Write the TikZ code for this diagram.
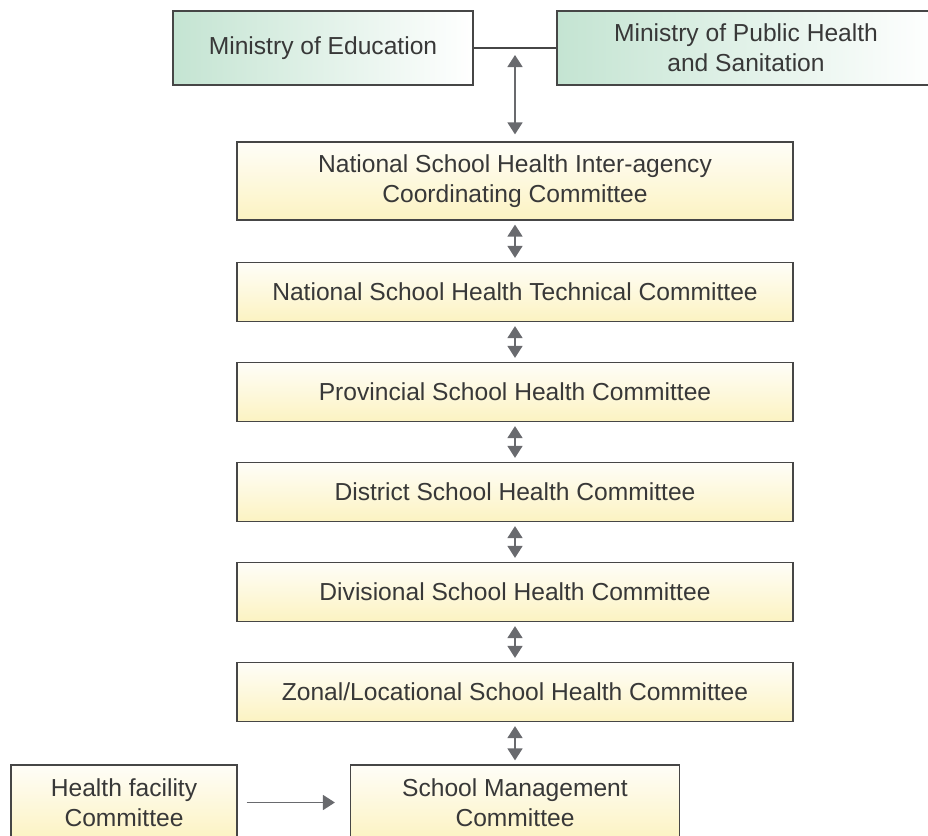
\documentclass[tikz,border=0pt]{standalone}
\usepackage{fontspec}
\setmainfont{Liberation Sans}
\usetikzlibrary{arrows.meta}

\definecolor{ministry}{RGB}{196,228,210}
\definecolor{cream}{RGB}{252,243,194}
\definecolor{edge}{RGB}{70,70,70}
\definecolor{link}{RGB}{105,106,110}

\tikzset{
  ministrybox/.style={draw=edge, line width=0.6pt, left color=ministry, right color=white,
    inner sep=0pt, align=center, minimum height=37pt},
  committee/.style={draw=edge, line width=0.6pt, top color=cream!12, bottom color=cream,
    inner sep=0pt, align=center},
  twoway/.style={draw=link, line width=0.8pt,
    {Triangle[width=7.5pt,length=6pt]}-{Triangle[width=7.5pt,length=6pt]},
    shorten <=2pt, shorten >=2pt},
  oneway/.style={draw=link, line width=0.8pt, -{Triangle[width=7.5pt,length=6pt]},
    shorten <=4.5pt, shorten >=7.5pt},
}

\begin{document}
\begin{tikzpicture}[x=0.5pt, y=-0.5pt, font=\fontsize{12.3}{15}\selectfont, text=black!78]
  \useasboundingbox (0,0) rectangle (928,836);

  % ministries
  \node[ministrybox, minimum width=150pt] (moe) at (323,48) {Ministry of Education};
  \node[ministrybox, minimum width=189pt] (moph) at (746,48)
    {Ministry of Public Health\\and Sanitation};
  \draw[edge, line width=0.6pt] (moe) -- (moph) coordinate[midway] (mid);

  % committees
  \node[committee, minimum width=278pt, minimum height=39pt] (nat) at (515,181)
    {National School Health Inter-agency\\Coordinating Committee};
  \foreach \name/\y/\txt in {
      tech/292/National School Health Technical Committee,
      prov/392/Provincial School Health Committee,
      dist/492/District School Health Committee,
      div/592/Divisional School Health Committee,
      zone/692/Zonal\slash Locational School Health Committee}{
    \node[committee, minimum width=278pt, minimum height=29.5pt] (\name) at (515,\y) {\txt};
  }

  \node[committee, minimum width=113pt, minimum height=37.5pt] (hfc) at (124,802.5)
    {Health facility\\Committee};
  \node[committee, minimum width=164.5pt, minimum height=37.5pt] (smc) at (515,802.5)
    {School Management\\Committee};

  % links
  \draw[twoway, shorten <=3.5pt, shorten >=3.5pt] (mid) -- (nat);
  \foreach \a/\b in {nat/tech, tech/prov, prov/dist, dist/div, div/zone, zone/smc}
    \draw[twoway] (\a) -- (\b);
  \draw[oneway] (hfc) -- (smc);
\end{tikzpicture}
\end{document}
